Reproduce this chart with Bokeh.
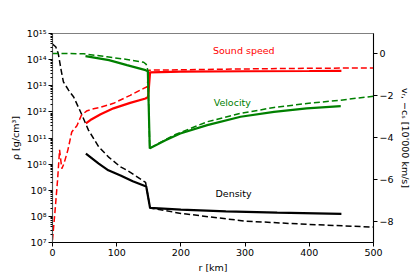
from bokeh.plotting import figure
from bokeh.models import Range1d, LinearAxis, LinearScale, FixedTicker, CustomJSTickFormatter
from bokeh.embed import file_html
from bokeh.resources import INLINE

# ---- data ----
# Density (left axis, g/cm^3)
r_rho_dash = [0, 5, 9, 13.5, 17, 25, 33, 45, 56, 72, 87, 106, 116, 130, 145, 152, 200, 300, 400, 500]
rho_dash = [3.9e14, 3.1e14, 1.7e14, 3.9e13, 1.4e13, 6.8e12, 3.7e12, 8.5e11, 2.0e11, 4.6e10,
            1.9e10, 7.8e9, 5.8e9, 3.5e9, 2.0e9, 2.1e8, 1.3e8, 6.6e7, 4.9e7, 3.9e7]
r_rho_solid = [52, 72, 87, 106, 125, 146, 152, 200, 270, 350, 450]
rho_solid = [2.5e10, 1.05e10, 5.8e9, 3.7e9, 2.2e9, 1.4e9, 2.1e8, 1.8e8, 1.55e8, 1.4e8, 1.25e8]

# Sound speed, -c_s (right axis, 10'000 km/s)
r_cs_dash = [0, 4, 8, 11, 14.5, 18, 24, 30, 38, 45, 53, 64, 75, 95, 121, 142, 147.5, 150, 200, 300, 400, 500]
cs_dash = [-8.9, -7.5, -6.0, -4.6, -5.5, -5.25, -4.6, -3.75, -3.45, -2.95, -2.75, -2.64, -2.57,
           -2.38, -2.0, -1.67, -1.59, -0.80, -0.78, -0.74, -0.71, -0.69]
r_cs_solid = [52, 59, 75, 95, 121, 145, 149, 152, 200, 300, 400, 450]
cs_solid = [-3.34, -3.18, -2.90, -2.62, -2.36, -2.15, -2.07, -0.90, -0.87, -0.85, -0.84, -0.83]

# Velocity v_r (right axis, 10'000 km/s)
r_v_dash = [0, 25, 49, 85, 116, 130, 142, 146, 148.5, 151.5, 189, 241, 293, 345, 396, 449, 500]
v_dash = [0, 0, -0.02, -0.16, -0.29, -0.36, -0.42, -0.52, -0.80, -4.52, -3.90, -3.26, -2.86,
          -2.58, -2.39, -2.23, -2.04]
r_v_solid = [51.4, 88, 116, 145, 148.5, 151.5, 176, 199, 241, 293, 345, 396, 449]
v_solid = [-0.13, -0.32, -0.56, -0.80, -0.85, -4.53, -4.14, -3.82, -3.42, -3.02, -2.79, -2.62, -2.51]

rho_ticks = [1e7, 1e8, 1e9, 1e10, 1e11, 1e12, 1e13, 1e14, 1e15]
v_ticks = [0, -2, -4, -6, -8]
x_ticks = [0, 100, 200, 300, 400, 500]

labels = ["Sound speed", "Velocity", "Density"]
label_r = [298, 280, 282]
label_v = [0.12, -2.36, -6.66]
label_colors = ["red", "green", "black"]
right_title = "v\u1d63, \u2212c\u209b [10'000 km/s]"

FONT = "DejaVu Sans"
FS = "9.5px"

p = figure(frame_width=321, frame_height=209, output_backend="svg", toolbar_location=None,
           y_axis_type="log", x_range=Range1d(0, 500), y_range=Range1d(1e7, 1e15),
           min_border_left=52, min_border_right=40, min_border_top=33, min_border_bottom=30)
p.extra_y_ranges = {"v": Range1d(-9.02, 0.95)}
p.extra_y_scales = {"v": LinearScale()}
p.xgrid.visible = False
p.ygrid.visible = False
p.outline_line_color = "#808080"
p.outline_line_width = 1.2
p.background_fill_color = "white"
p.border_fill_color = "white"

# Left log axis
minor = [k * 10.0 ** e for e in range(7, 15) for k in range(2, 10)]
p.yaxis.ticker = FixedTicker(ticks=rho_ticks, minor_ticks=minor)
p.yaxis.formatter = CustomJSTickFormatter(code="""
const sup = {'0':'\u2070','1':'\u00b9','2':'\u00b2','3':'\u00b3','4':'\u2074','5':'\u2075','6':'\u2076','7':'\u2077','8':'\u2078','9':'\u2079','-':'\u207b'};
const e = Math.round(Math.log10(tick));
return '10' + String(e).split('').map(c => sup[c]).join('');
""")
p.yaxis.axis_label = "\u03c1 [g/cm\u00b3]"
p.yaxis.axis_line_color = "#555555"

# Bottom axis
p.xaxis.ticker = FixedTicker(ticks=x_ticks, minor_ticks=[])
p.xaxis.axis_label = "r [km]"

# Right axis
ax_r = LinearAxis(y_range_name="v",
                  ticker=FixedTicker(ticks=v_ticks, minor_ticks=[]),
                  axis_label=right_title)
ax_r.formatter = CustomJSTickFormatter(code="""
return tick < 0 ? '\u2212' + Math.abs(tick) : String(tick);
""")
p.add_layout(ax_r, "right")

for ax in [p.xaxis[0], p.yaxis[0], ax_r]:
    ax.major_label_text_font = FONT
    ax.major_label_text_font_size = FS
    ax.axis_label_text_font = FONT
    ax.axis_label_text_font_size = FS
    ax.axis_label_text_font_style = "normal"
    ax.major_tick_out = 4
    ax.major_tick_in = 0
    ax.minor_tick_out = 2
    ax.minor_tick_in = 0
    ax.major_label_standoff = 2
    ax.axis_label_standoff = 3
    ax.major_label_text_color = "black"
    ax.axis_label_text_color = "black"

DASH = "6 3"
# density
p.line(r_rho_dash, rho_dash, color="black", line_width=1.5, line_dash=DASH)
p.line(r_rho_solid, rho_solid, color="black", line_width=2.2)
# sound speed
p.line(r_cs_dash, cs_dash, color="red", line_width=1.5, line_dash=DASH, y_range_name="v")
p.line(r_cs_solid, cs_solid, color="red", line_width=2.2, y_range_name="v")
# velocity
p.line(r_v_dash, v_dash, color="green", line_width=1.5, line_dash=DASH, y_range_name="v")
p.line(r_v_solid, v_solid, color="green", line_width=2.2, y_range_name="v")

for t, x, y, c in zip(labels, label_r, label_v, label_colors):
    p.text(x=[x], y=[y], text=[t], text_color=c, text_font={"value": FONT},
           text_font_size=FS, text_align="center", text_baseline="middle",
           y_range_name="v")

open("out.html", "w").write(file_html(p, INLINE))
